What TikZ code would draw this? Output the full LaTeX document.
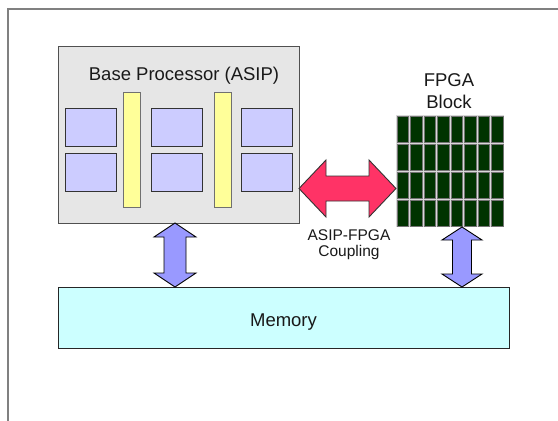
\documentclass[tikz,border=0pt]{standalone}
\usepackage{fontspec}
\setmainfont{Liberation Sans}
\usetikzlibrary{calc}
\definecolor{framecol}{HTML}{808080}
\definecolor{procfill}{HTML}{E6E6E6}
\definecolor{procline}{HTML}{505050}
\definecolor{unitfill}{HTML}{CCCCFF}
\definecolor{unitline}{HTML}{333333}
\definecolor{barfill}{HTML}{FFFF99}
\definecolor{barline}{HTML}{707070}
\definecolor{memfill}{HTML}{CCFFFF}
\definecolor{cplfill}{HTML}{FF3366}
\definecolor{busfill}{HTML}{9999FF}
\definecolor{fpgafill}{HTML}{003300}
\definecolor{fpgasep}{HTML}{D8D8D8}
\newcommand\vblockarrow[6]{%
  \draw[#1] (#2) -- ($(#2)+(#5,#6)$) -- ($(#2)+(#4,#6)$) -- ($(#3)+(#4,-#6)$) -- ($(#3)+(#5,-#6)$) -- (#3)
    -- ($(#3)+(-#5,-#6)$) -- ($(#3)+(-#4,-#6)$) -- ($(#2)+(-#4,#6)$) -- ($(#2)+(-#5,#6)$) -- cycle;}
\newcommand\hblockarrow[6]{%
  \draw[#1] (#2) -- ($(#2)+(#6,-#5)$) -- ($(#2)+(#6,-#4)$) -- ($(#3)+(-#6,-#4)$) -- ($(#3)+(-#6,-#5)$) -- (#3)
    -- ($(#3)+(-#6,#5)$) -- ($(#3)+(-#6,#4)$) -- ($(#2)+(#6,#4)$) -- ($(#2)+(#6,#5)$) -- cycle;}
\begin{document}
\begin{tikzpicture}[x=1pt,y=-1pt,
  box/.style={rectangle, inner sep=0pt, outer sep=0pt, anchor=north west, line width=0.9pt},
  procbox/.style={box, fill=procfill, draw=procline, minimum width=241pt, minimum height=176.5pt},
  unitbox/.style={box, fill=unitfill, draw=unitline, minimum width=51pt, minimum height=38.4pt},
  barbox/.style={box, fill=barfill, draw=barline, minimum width=17pt, minimum height=114.6pt},
  membox/.style={box, fill=memfill, draw=black!85, minimum width=451pt, minimum height=61pt},
  fpgabox/.style={box, fill=fpgasep, minimum width=108pt, minimum height=112pt},
  fpgacell/.style={fill=fpgafill, draw=black!55, line width=0.5pt},
  bigtxt/.style={inner sep=0pt, font=\fontsize{18.5}{21.7}\selectfont, text=black!90},
  smalltxt/.style={inner sep=0pt, font=\fontsize{15.5}{16.7}\selectfont, text=black!90, align=center},
  bus/.style={fill=busfill, draw=black, line width=0.9pt},
  cpl/.style={fill=cplfill, draw=black!80, line width=0.9pt}]
\useasboundingbox (0,0) rectangle (558,421);
\fill[white] (0,0) rectangle (558,421);
\draw[framecol, line width=1.1pt] (8,421) -- (8,9) -- (558,9);

% Base processor
\node[procbox] (proc) at (58,46.5) {};
\node[bigtxt, anchor=base] (ptitle) at (184,80.5) {Base Processor (ASIP)};
\node[unitbox] (u11) at (65.7,108.3) {};
\node[unitbox] (u12) at (65.7,153.3) {};
\node[unitbox] (u21) at (151.3,108.3) {};
\node[unitbox] (u22) at (151.3,153.3) {};
\node[unitbox] (u31) at (241.5,108.3) {};
\node[unitbox] (u32) at (241.5,153.3) {};
\node[barbox] (bar1) at (123,92.7) {};
\node[barbox] (bar2) at (214,92.7) {};

% FPGA block
\node[fpgabox] (fpga) at (396,115) {};
\foreach \i in {0,...,7}
  \foreach \j in {0,...,3}
    \draw[fpgacell] ({396+\i*13.5+0.9},{115+\j*28+1.1}) rectangle ++(11.7,25.8);
\node[bigtxt, anchor=north, align=center] (ftitle) at (449,73.3) {FPGA\\Block};

% Memory
\node[membox] (mem) at (58,287) {};
\node[bigtxt, anchor=base] (mtitle) at (283.5,326) {Memory};

% Connectors
\coordinate (lax) at (175,0);
\coordinate (rax) at (462,0);
\coordinate (cay) at (0,188.5);
\coordinate (lt) at (proc.south -| lax);
\coordinate (lb) at (mem.north -| lax);
\coordinate (rt) at (fpga.south -| rax);
\coordinate (rb) at (mem.north -| rax);
\coordinate (ca) at (proc.east |- cay);
\coordinate (cb) at (fpga.west |- cay);
\vblockarrow{bus}{lt}{lb}{11}{21}{14}
\vblockarrow{bus}{rt}{rb}{9.5}{20}{13}
\hblockarrow{cpl}{ca}{cb}{12.5}{28.5}{27}
\node[smalltxt, anchor=north] (clabel) at (349,229) {ASIP-FPGA\\Coupling};
\end{tikzpicture}
\end{document}
